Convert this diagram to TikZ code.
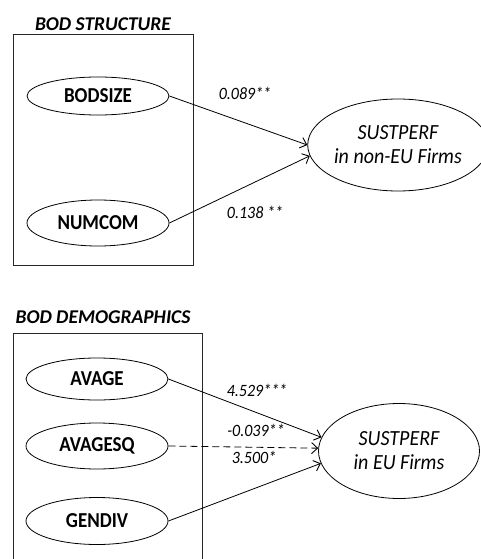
\documentclass[tikz,border=0pt]{standalone}
\usepackage{fontspec}
\usepackage{graphicx}
\setmainfont{Carlito}
\usetikzlibrary{shapes.geometric,arrows.meta}
% slightly taller lettering for the variable names
\newcommand\tallword[2][1.12]{\scalebox{1}[#1]{#2}}
\tikzset{
  var/.style={draw, ellipse, line width=0.8pt, inner sep=0pt,
    minimum width=142pt, minimum height=42pt,
    font=\fontsize{19}{23}\selectfont\bfseries},
  outcome/.style={draw, ellipse, line width=0.8pt, inner sep=0pt,
    minimum width=161pt, minimum height=92pt, align=center,
    font=\fontsize{20}{23}\selectfont\itshape},
  grouptitle/.style={font=\fontsize{19.5}{23}\selectfont\bfseries\itshape},
  coef/.style={font=\fontsize{16}{19}\selectfont\itshape, inner sep=1pt},
  frame/.style={draw=black!85, line width=1pt},
  path/.style={line width=0.8pt, -{Straight Barb[length=6pt,width=11pt,line width=0.9pt]}}
}
\begin{document}
\begin{tikzpicture}[x=1pt,y=-1pt]
\useasboundingbox (0,0) rectangle (481,559);

% board structure group
\node[grouptitle] (t1) at (103,24) {BOD STRUCTURE};
\draw[frame] (13,35) rectangle (193,265);
\node[var, minimum height=38pt] (bodsize) at (98,96) {\tallword{BODSIZE}};
\node[var, minimum height=46pt] (numcom) at (98,223) {\tallword{NUMCOM}};
\node[outcome] (sp1) at (398,145) {\tallword[1.08]{SUSTPERF}\\[1pt]\tallword[1.08]{in non-EU Firms}};

\draw[path] (bodsize.east) -- (sp1.west);
\draw[path] (numcom.east) -- (sp1.187);
\node[coef] (c1) at (245,93) {\tallword[1.08]{0.089**}};
\node[coef] (c2) at (255,212) {\tallword[1.08]{0.138 **}};

% board demographics group
\node[grouptitle] (t2) at (103,317) {BOD DEMOGRAPHICS};
\draw[frame] (13,562) -- (13,333) -- (202,333) -- (202,562);
\node[var] (avage) at (97,379) {\tallword{AVAGE}};
\node[var, minimum height=46pt] (avagesq) at (97,446) {\tallword{AVAGESQ}};
\node[var, minimum height=47pt] (gendiv) at (97,521) {\tallword{GENDIV}};
\node[outcome, minimum height=95pt] (sp2) at (399,451) {\tallword[1.08]{SUSTPERF}\\[1pt]\tallword[1.08]{in EU Firms}};

\draw[path] (avage.east) -- (sp2.170);
\draw[path, dashed, dash pattern=on 7pt off 4pt] (avagesq.east) -- (sp2.178);
\draw[path] (gendiv.east) -- (sp2.189);
\node[coef] (c3) at (257,390) {\tallword[1.08]{4.529***}};
\node[coef] (c4) at (256,430) {\tallword[1.08]{-0.039**}};
\node[coef] (c5) at (254,457) {\tallword[1.08]{3.500*}};
\end{tikzpicture}
\end{document}
